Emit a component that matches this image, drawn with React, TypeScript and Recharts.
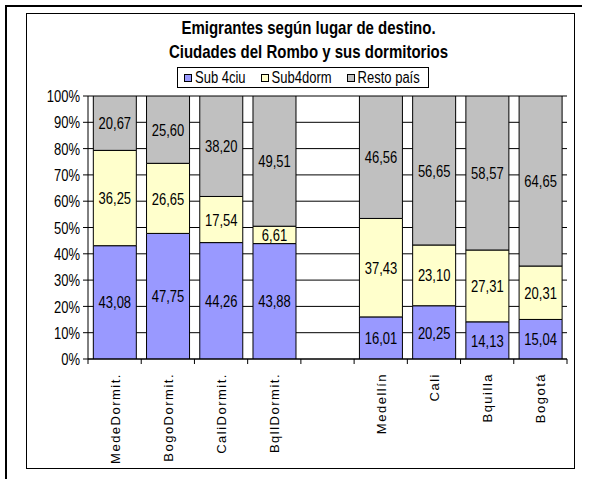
import { BarChart, Bar, XAxis, YAxis, CartesianGrid, LabelList } from "recharts";

const CATEGORIES = [
  "MedeDormit.", "BogoDormit.", "CaliDormit.", "BqllDormit.", "",
  "Medellín", "Cali", "Bquilla", "Bogotá",
];
const SUB_4CIU = [43.08, 47.75, 44.26, 43.88, null, 16.01, 20.25, 14.13, 15.04];
const SUB_4DORM = [36.25, 26.65, 17.54, 6.61, null, 37.43, 23.1, 27.31, 20.31];
const RESTO_PAIS = [20.67, 25.6, 38.2, 49.51, null, 46.56, 56.65, 58.57, 64.65];
const Y_TICKS = [0, 10, 20, 30, 40, 50, 60, 70, 80, 90, 100];

const SERIES = [
  { key: "sub4ciu", name: "Sub 4ciu", color: "#9999ff" },
  { key: "sub4dorm", name: "Sub4dorm", color: "#ffffcc" },
  { key: "resto", name: "Resto país", color: "#c0c0c0" },
];

const data = CATEGORIES.map((name, i) => ({
  name,
  sub4ciu: SUB_4CIU[i],
  sub4dorm: SUB_4DORM[i],
  resto: RESTO_PAIS[i],
}));

const FONT = "'Liberation Sans', Arial, sans-serif";
const PLOT_W = 479;
const BAND = PLOT_W / CATEGORIES.length;
// the source picture is stretched vertically, text gets the same stretch
const STRETCH = 1.28;

const fmt = (v: unknown) =>
  v == null ? "" : Number(v).toFixed(2).replace(".", ",");

function CategoryTick(props: any) {
  const { x, y, payload, index } = props;
  const last = index === CATEGORIES.length - 1;
  return (
    <g>
      <line x1={x - BAND / 2} x2={x - BAND / 2} y1={y} y2={y + 5} stroke="#000" />
      {last && <line x1={x + BAND / 2} x2={x + BAND / 2} y1={y} y2={y + 5} stroke="#000" />}
      <text
        transform={`translate(${x + 5},${y + 14}) rotate(-90)`}
        textAnchor="end"
        fontSize={13}
        fontFamily={FONT}
        letterSpacing={1.5}
        fill="#000"
      >
        {payload.value}
      </text>
    </g>
  );
}

function PercentTick(props: any) {
  const { x, y, payload } = props;
  return (
    <text
      transform={`translate(${x},${y}) scale(1,${STRETCH})`}
      textAnchor="end"
      dominantBaseline="central"
      fontSize={13}
      fontFamily={FONT}
      fill="#000"
    >
      {`${payload.value}%`}
    </text>
  );
}

function ValueLabel(props: any) {
  const { x, y, width, height, value } = props;
  if (value == null) return null;
  return (
    <text
      transform={`translate(${x + width / 2},${y + height / 2}) scale(1,${STRETCH})`}
      textAnchor="middle"
      dominantBaseline="central"
      fontSize={13}
      fontFamily={FONT}
      fill="#000"
    >
      {fmt(value)}
    </text>
  );
}

function LegendBox() {
  return (
    <div
      style={{
        position: "absolute",
        left: 177,
        top: 67,
        width: 250,
        height: 19,
        border: "1px solid #000",
        display: "flex",
        alignItems: "center",
        fontFamily: FONT,
        fontSize: 13,
        lineHeight: "14px",
        whiteSpace: "nowrap",
        background: "#fff",
      }}
    >
      {SERIES.map((s, i) => (
        <div key={s.key} style={{ display: "flex", alignItems: "center", flexShrink: 0, marginLeft: i === 0 ? 6 : 15 }}>
          <div style={{ width: 6, height: 6, border: "1px solid #000", background: s.color, marginRight: 3 }} />
          <span style={{ display: "inline-block", transform: `scaleY(${STRETCH})` }}>{s.name}</span>
        </div>
      ))}
    </div>
  );
}

export default function App() {
  return (
    <div style={{ position: "absolute", left: 0, top: 0, width: 589, height: 479, background: "#fff", fontFamily: FONT }}>
      {/* outer frame, only top and left edges are in the picture */}
      <div style={{ position: "absolute", left: 5, top: 5, width: 575, height: 474, borderTop: "2px solid #000", borderLeft: "2px solid #000" }} />
      <div style={{ position: "absolute", left: 26, top: 13, width: 547, height: 454, border: "1px solid #000" }} />
      <div
        style={{
          position: "absolute", left: 34, width: 549, top: 20, textAlign: "center",
          fontWeight: "bold", fontSize: 15, lineHeight: "19px", transform: `scaleY(${STRETCH})`,
        }}
      >
        Emigrantes según lugar de destino.
        <br />
        Ciudades del Rombo y sus dormitorios
      </div>
      <LegendBox />
      <div style={{ position: "absolute", left: 0, top: 0 }}>
        <BarChart
          width={589}
          height={479}
          data={data}
          margin={{ top: 96, right: 22, bottom: 0, left: 48 }}
          barCategoryGap="10%"
        >
          <CartesianGrid horizontal vertical={false} stroke="#000" />
          <XAxis
            dataKey="name"
            height={120}
            interval={0}
            tickLine={false}
            tickSize={0}
            tickMargin={0}
            axisLine={{ stroke: "#000" }}
            tick={<CategoryTick />}
          />
          <YAxis
            width={40}
            domain={[0, 100]}
            allowDataOverflow
            ticks={Y_TICKS}
            tickSize={5}
            tickMargin={3}
            axisLine={{ stroke: "#000" }}
            tickLine={{ stroke: "#000" }}
            tick={<PercentTick />}
          />
          <YAxis
            yAxisId="right"
            orientation="right"
            width={0}
            domain={[0, 100]}
            tick={false}
            tickLine={false}
            axisLine={{ stroke: "#808080" }}
          />
          {SERIES.map((s) => (
            <Bar
              key={s.key}
              dataKey={s.key}
              name={s.name}
              stackId="a"
              fill={s.color}
              stroke="#000"
              strokeWidth={1}
              isAnimationActive={false}
            >
              <LabelList dataKey={s.key} content={<ValueLabel />} />
            </Bar>
          ))}
        </BarChart>
      </div>
    </div>
  );
}
